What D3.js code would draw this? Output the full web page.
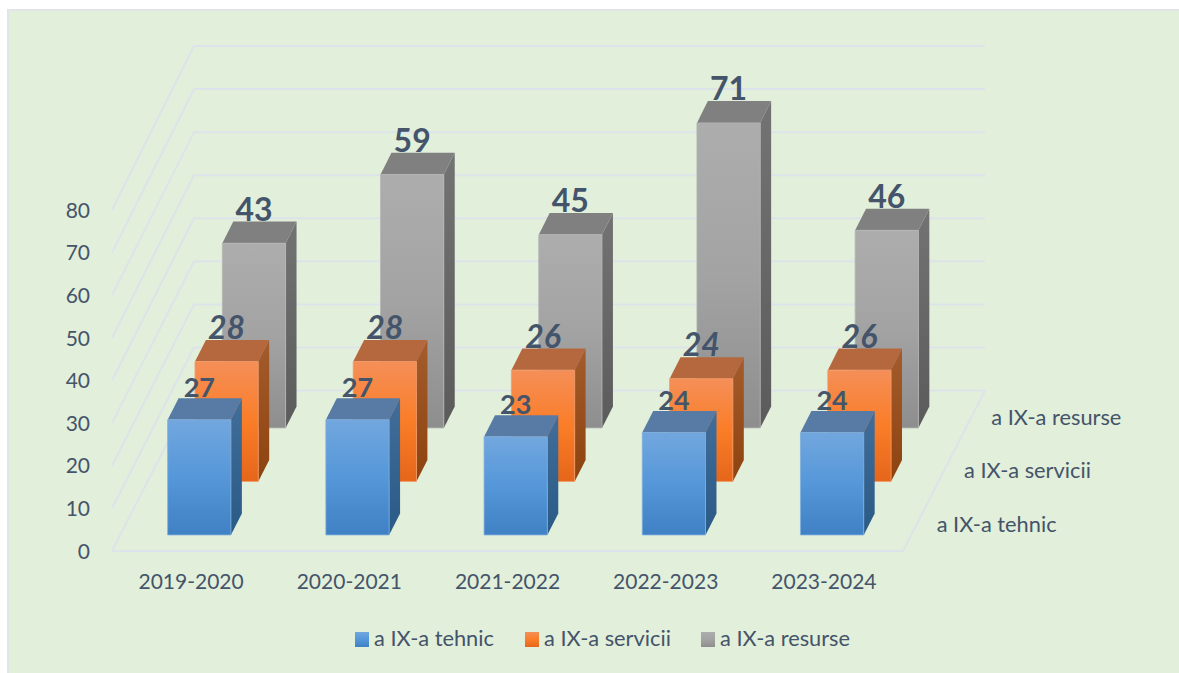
<!DOCTYPE html>
<html>
<head>
<meta charset="utf-8">
<script src="https://cdn.jsdelivr.net/npm/d3@7"></script>
<style>
  html, body { margin: 0; padding: 0; background: #fff; overflow: hidden; }
  svg { display: block; font-family: Lato, sans-serif; }
  text { fill: #44546a; }
</style>
</head>
<body>
<svg id="chart" width="1179" height="673"></svg>
<script>
const years = ['2019-2020', '2020-2021', '2021-2022', '2022-2023', '2023-2024'];
const seriesNames = ['a IX-a tehnic', 'a IX-a servicii', 'a IX-a resurse'];
const tehnic = [27, 27, 23, 24, 24];
const servicii = [28, 28, 26, 24, 26];
const resurse = [43, 59, 45, 71, 46];
const yTicks = [0, 10, 20, 30, 40, 50, 60, 70, 80];

const seriesValues = [tehnic, servicii, resurse];

const colours = [
  { front: ['#72a7de', '#5597d9', '#4080c4'], side: ['#416d99', '#2a5a86'], top: '#587ba5', edge: '#7fb0e0' },
  { front: ['#f58f58', '#fa7d28', '#e5661a'], side: ['#a55c2c', '#8c430f'], top: '#b5683e', edge: '#f59a68' },
  { front: ['#adadad', '#a3a3a3', '#8e8e8e'], side: ['#737373', '#5b5b5b'], top: '#808080', edge: '#b5b5b5' }
];

const svg = d3.select('#chart');

// panel runs off the right and bottom of the picture
svg.append('rect').attr('x', 8).attr('y', 10).attr('width', 1200).attr('height', 700)
  .attr('fill', '#e2efda').attr('stroke', '#e0e5ea').attr('stroke-width', 2);

// scales: x along the front edge, z goes into the picture
// the value scale is a touch larger at the back wall than at the front
const x = d3.scaleBand().domain(years).range([112, 903]).paddingInner(0.6).paddingOuter(0.3);
const yFront = d3.scaleLinear().domain([0, 80]).range([551, 210]);
const yBack = d3.scaleLinear().domain([0, 80]).range([390.5, 46]);
const z = d3.scaleBand().domain(seriesNames).range([0, 1]).paddingInner(0.6).paddingOuter(0.3);
const depthX = d3.scaleLinear().domain([0, 1]).range([0, 82]);

const project = (px, pz, v) => [px + depthX(pz), yFront(v) * (1 - pz) + yBack(v) * pz];
const poly = d3.line();

// gradients
const defs = svg.append('defs');
colours.forEach((c, i) => {
  const f = defs.append('linearGradient').attr('id', 'front' + i).attr('x1', 0).attr('x2', 0).attr('y1', 0).attr('y2', 1);
  c.front.forEach((col, j) => f.append('stop').attr('offset', j / 2).attr('stop-color', col));
  const s = defs.append('linearGradient').attr('id', 'side' + i).attr('x1', 0).attr('x2', 0).attr('y1', 0).attr('y2', 1);
  c.side.forEach((col, j) => s.append('stop').attr('offset', j).attr('stop-color', col));
});

// walls and floor grid
const grid = svg.append('g').attr('fill', 'none').attr('stroke', '#dde3ea').attr('stroke-width', 2);
const [xMin, xMax] = x.range();
yTicks.forEach(t => {
  grid.append('path').attr('d', poly([project(xMin, 0, t), project(xMin, 1, t), project(xMax, 1, t)]));
});
grid.append('path').attr('d', poly([project(xMin, 0, 0), project(xMax, 0, 0), project(xMax, 1, 0)]));

// axes
const yAxis = svg.append('g').attr('transform', `translate(${xMin},0.5)`)
  .call(d3.axisLeft(yFront).tickValues(yTicks).tickSize(0).tickPadding(22));
const xAxis = svg.append('g').attr('transform', 'translate(0,574)')
  .call(d3.axisBottom(x).tickSize(0).tickPadding(0));
[yAxis, xAxis].forEach(a => {
  a.select('.domain').remove();
  a.selectAll('text').style('font-family', 'Lato, sans-serif').style('font-size', '21px').attr('fill', '#44546a');
});

// series names on the depth axis
svg.append('g').selectAll('text').data(seriesNames).join('text')
  .attr('x', d => project(xMax, z(d) + z.bandwidth() / 2, 0)[0] + 20)
  .attr('y', d => project(xMax, z(d) + z.bandwidth() / 2, 0)[1] + 7.5)
  .style('font-size', '21.8px')
  .text(d => d);

// back series first so the nearer bars cover them
const plot = svg.append('g');
d3.range(seriesNames.length - 1, -1, -1).forEach(i => {
  const name = seriesNames[i];
  const z0 = z(name), z1 = z0 + z.bandwidth();
  years.forEach((year, k) => {
    const x0 = x(year), x1 = x0 + x.bandwidth();
    const v = seriesValues[i][k];
    const bar = plot.append('g');

    // label sits behind its own bar top
    bar.append('text')
      .attr('x', (project(x0, z0, v)[0] + project(x1, z0, v)[0]) / 2)
      .attr('y', project(x0, z1, v)[1] - 1)
      .attr('text-anchor', 'middle')
      .style('font-size', i === 0 ? '27px' : '32px')
      .style('font-weight', 700)
      .style('font-style', i === 1 ? 'italic' : 'normal')
      .attr('fill', '#44546a')
      .text(v);

    bar.append('path').attr('d', poly([project(x1, z0, 0), project(x1, z1, 0), project(x1, z1, v), project(x1, z0, v)]) + 'Z')
      .attr('fill', `url(#side${i})`);
    bar.append('path').attr('d', poly([project(x0, z0, v), project(x1, z0, v), project(x1, z1, v), project(x0, z1, v)]) + 'Z')
      .attr('fill', colours[i].top);
    bar.append('path').attr('d', poly([project(x0, z0, 0), project(x1, z0, 0), project(x1, z0, v), project(x0, z0, v)]) + 'Z')
      .attr('fill', `url(#front${i})`).attr('stroke', colours[i].edge).attr('stroke-width', 0.8);
  });
});

// legend
const legendX = [355, 525, 701];
const legend = svg.append('g').selectAll('g').data(seriesNames).join('g')
  .attr('transform', (d, i) => `translate(${legendX[i]},632)`);
legend.append('rect').attr('width', 14).attr('height', 15).attr('fill', (d, i) => `url(#front${i})`);
legend.append('text').attr('x', 19).attr('y', 14).style('font-size', '21.8px').text(d => d);
</script>
</body>
</html>
